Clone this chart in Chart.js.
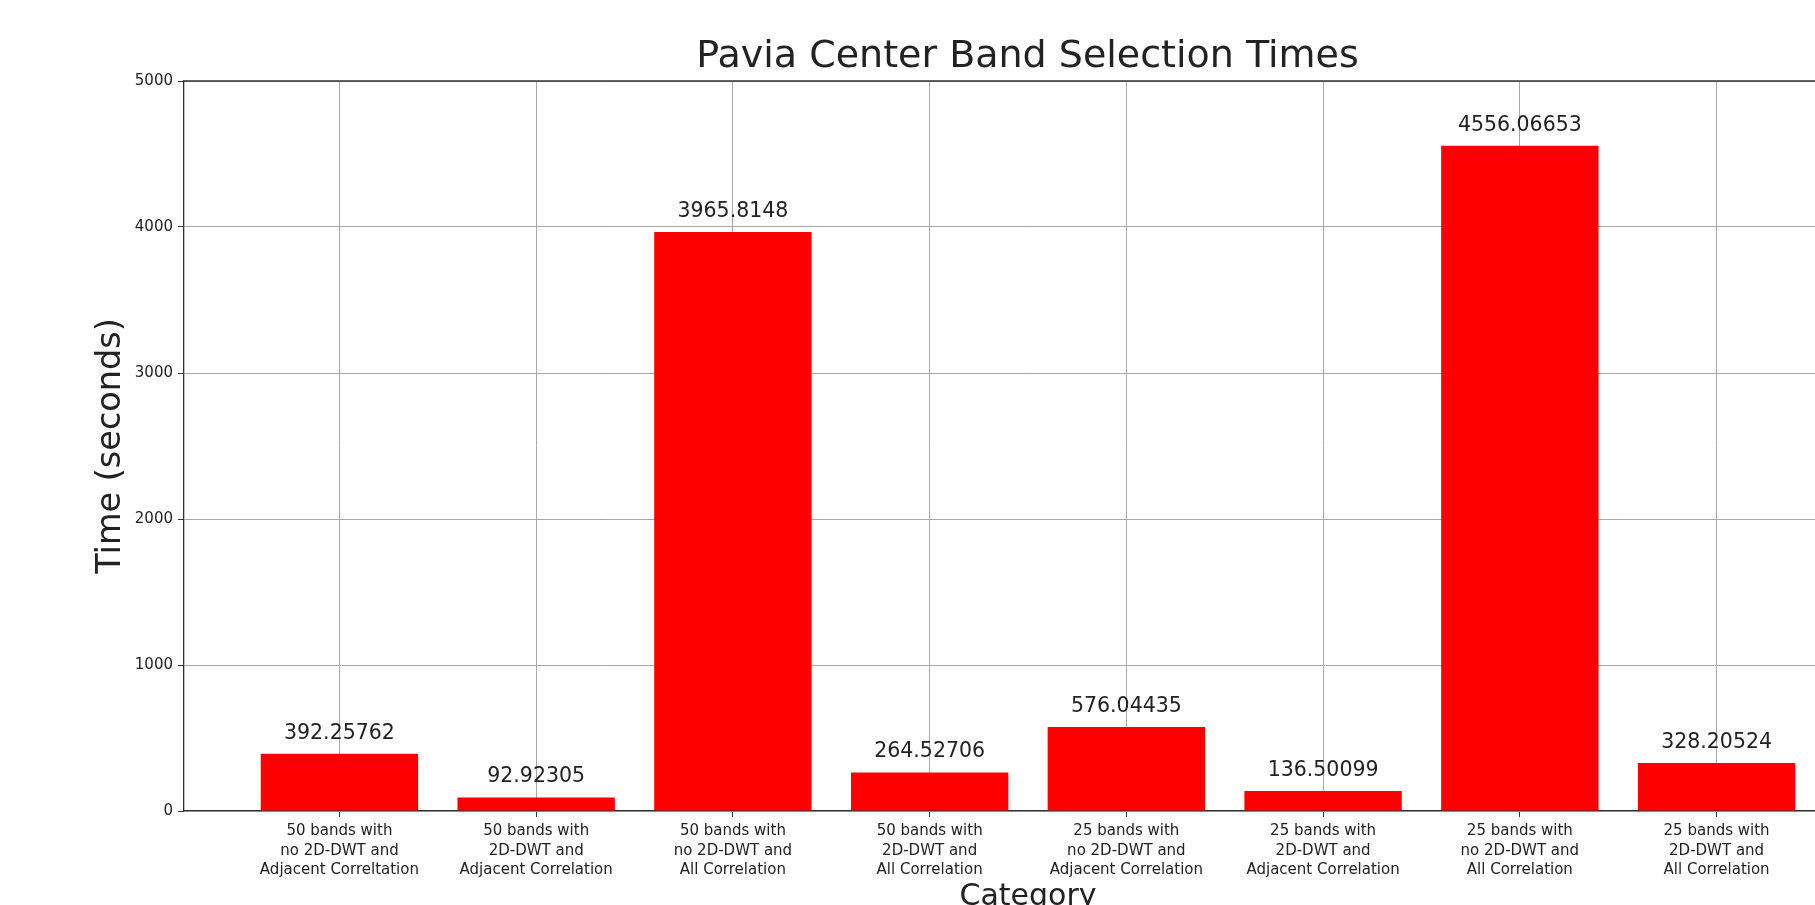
<!DOCTYPE html>
<html>
<head>
<meta charset="utf-8">
<title>Pavia Center Band Selection Times</title>
<script src="https://cdn.jsdelivr.net/npm/chart.js@4.4.1/dist/chart.umd.min.js"></script>
<style>
    html, body { margin: 0; padding: 0; background: #ffffff; overflow: hidden; }
    #wrap { width: 2055px; height: 940px; position: relative; }
    #chart { display: block; width: 2055px; height: 940px; }
</style>
</head>
<body>
<div id="wrap"><canvas id="chart" width="2055" height="940"></canvas></div>
<script>
// category labels, one array of lines per bar
const categories = [
    ['50 bands with', 'no 2D-DWT and', 'Adjacent Correltation'],
    ['50 bands with', '2D-DWT and', 'Adjacent Correlation'],
    ['50 bands with', 'no 2D-DWT and', 'All Correlation'],
    ['50 bands with', '2D-DWT and', 'All Correlation'],
    ['25 bands with', 'no 2D-DWT and', 'Adjacent Correlation'],
    ['25 bands with', '2D-DWT and', 'Adjacent Correlation'],
    ['25 bands with', 'no 2D-DWT and', 'All Correlation'],
    ['25 bands with', '2D-DWT and', 'All Correlation'],
];
const times = [392.25762, 92.92305, 3965.8148, 264.52706, 576.04435, 136.50099, 4556.06653, 328.20524];
const yTicks = [0, 1000, 2000, 3000, 4000, 5000];

const FONT = 'DejaVu Sans';
const TEXT = '#222222';
const SPINE = '#333333';
const GRID = '#a8a8a8';

// value printed above every bar
const barLabels = {
    id: 'barLabels',
    afterDatasetsDraw(chart) {
        const ctx = chart.ctx;
        const meta = chart.getDatasetMeta(0);
        ctx.save();
        ctx.font = `20.5px "${FONT}"`;
        ctx.fillStyle = TEXT;
        ctx.textAlign = 'center';
        ctx.textBaseline = 'alphabetic';
        meta.data.forEach((bar, i) => {
            ctx.fillText(String(times[i]), bar.x, bar.y - 15);
        });
        ctx.restore();
    }
};

// top and right spines
const frame = {
    id: 'frame',
    afterDraw(chart) {
        const { ctx, chartArea } = chart;
        ctx.save();
        ctx.strokeStyle = SPINE;
        ctx.lineWidth = 1.3;
        ctx.beginPath();
        ctx.moveTo(chartArea.left, chartArea.top);
        ctx.lineTo(chartArea.right, chartArea.top);
        ctx.lineTo(chartArea.right, chartArea.bottom);
        ctx.stroke();
        ctx.restore();
    }
};

const ctx = document.getElementById('chart').getContext('2d');
const chart = new Chart(ctx, {
    type: 'bar',
    data: {
        datasets: [
            {
                label: 'Time',
                data: times.map((t, i) => ({ x: i, y: t })),
                backgroundColor: '#ff0000',
                borderWidth: 0,
                categoryPercentage: 0.8,
                barPercentage: 1.0,
            },
        ],
    },
    options: {
        responsive: false,
        animation: false,
        devicePixelRatio: 1,
        layout: {
            padding: 0
        },
        plugins: {
            legend: { display: false },
            tooltip: { enabled: false },
            title: {
                display: true,
                text: 'Pavia Center Band Selection Times',
                color: TEXT,
                font: { family: FONT, size: 38, weight: 'normal', lineHeight: 1.2 },
                padding: { top: 34, bottom: 1.4 }
            }
        },
        scales: {
            x: {
                type: 'linear',
                min: -0.79,
                max: 7.79,
                offset: false,
                afterBuildTicks: (scale) => {
                    scale.ticks = categories.map((_, i) => ({ value: i }));
                },
                afterFit: (scale) => {
                    scale.height = 940 - 811;
                },
                ticks: {
                    autoSkip: false,
                    maxRotation: 0,
                    padding: 4,
                    color: TEXT,
                    font: { family: FONT, size: 15, lineHeight: 1.32 },
                    callback: (value) => categories[value] || ''
                },
                grid: { offset: false, color: GRID, lineWidth: 1, tickLength: 6, tickColor: SPINE },
                border: { display: true, color: SPINE, width: 1.3 },
                title: {
                    display: true,
                    text: 'Category',
                    color: TEXT,
                    font: { family: FONT, size: 30, lineHeight: 1.2 },
                    padding: { top: 0, bottom: 25 }
                }
            },
            y: {
                min: 0,
                max: 5000,
                afterBuildTicks: (scale) => {
                    scale.ticks = yTicks.map(v => ({ value: v }));
                },
                afterFit: (scale) => {
                    scale.width = 184;
                },
                ticks: {
                    padding: 5,
                    color: TEXT,
                    font: { family: FONT, size: 15 },
                    callback: (value) => String(value)
                },
                grid: { color: GRID, lineWidth: 1, tickLength: 6, tickColor: SPINE },
                border: { display: true, color: SPINE, width: 1.3 },
                title: {
                    display: true,
                    text: 'Time (seconds)',
                    color: TEXT,
                    font: { family: FONT, size: 33.5, lineHeight: 1.2 },
                    padding: { top: 91, bottom: 0 }
                }
            },
            // empty right-hand box, keeps the title centred over the axes
            yRight: {
                position: 'right',
                display: true,
                afterFit: (scale) => {
                    scale.width = 183;
                },
                ticks: { display: false },
                grid: { display: false, drawTicks: false },
                border: { display: false }
            }
        }
    },
    plugins: [barLabels, frame]
});
</script>
</body>
</html>
